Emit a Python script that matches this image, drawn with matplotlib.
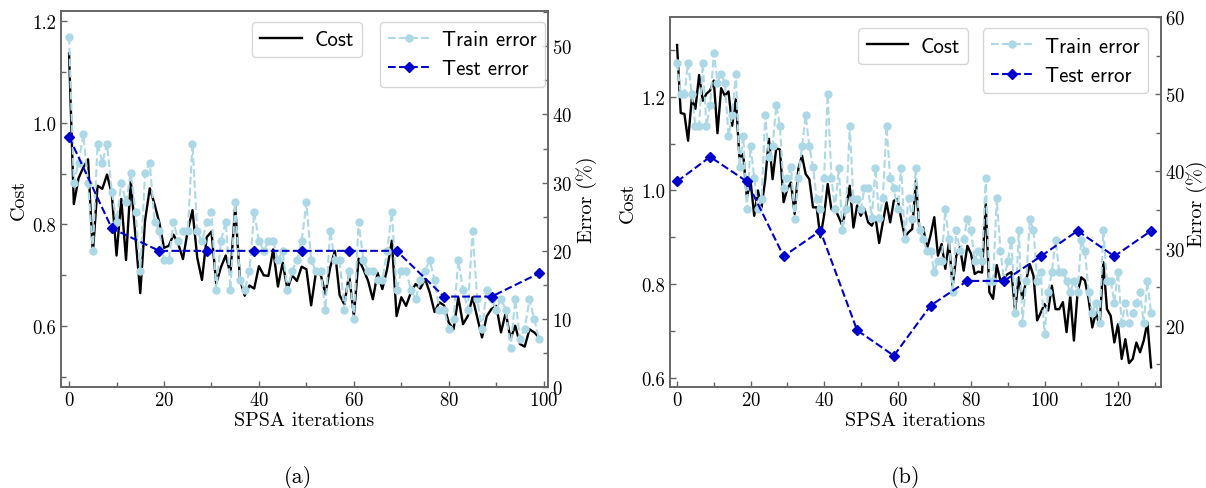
import matplotlib
matplotlib.use('Agg')
import matplotlib.pyplot as plt
from matplotlib.ticker import MultipleLocator

plt.rcParams['font.family'] = 'cmr10'
plt.rcParams['axes.formatter.use_mathtext'] = True
plt.rcParams['mathtext.fontset'] = 'cm'

# ---------------- data: panel (a) ----------------
cost_a = [1.136, 0.840, 0.891, 0.912, 0.928, 0.742, 0.876, 0.870, 0.898, 0.860,
          0.739, 0.850, 0.730, 0.886, 0.775, 0.665, 0.807, 0.871, 0.840, 0.804,
          0.754, 0.758, 0.780, 0.762, 0.732, 0.788, 0.828, 0.735, 0.691, 0.775,
          0.786, 0.684, 0.716, 0.739, 0.703, 0.836, 0.692, 0.660, 0.680, 0.674,
          0.718, 0.700, 0.699, 0.751, 0.678, 0.725, 0.673, 0.700, 0.689, 0.717,
          0.712, 0.641, 0.705, 0.702, 0.663, 0.715, 0.748, 0.661, 0.643, 0.702,
          0.620, 0.733, 0.712, 0.689, 0.653, 0.705, 0.673, 0.712, 0.768, 0.620,
          0.657, 0.640, 0.666, 0.683, 0.674, 0.693, 0.666, 0.628, 0.647, 0.641,
          0.607, 0.594, 0.657, 0.604, 0.620, 0.657, 0.617, 0.578, 0.620, 0.634,
          0.640, 0.588, 0.627, 0.575, 0.601, 0.565, 0.560, 0.594, 0.588, 0.578]
train_a = [51.4, 30.0, 32.9, 37.1, 30.0, 20.0, 35.7, 32.9, 35.7, 28.6,
           24.3, 30.0, 27.1, 31.4, 25.7, 17.1, 31.4, 32.9, 24.3, 22.9,
           18.6, 18.6, 24.3, 21.4, 22.9, 22.9, 35.7, 22.9, 21.4, 24.3,
           25.7, 14.3, 21.4, 24.3, 14.3, 27.1, 15.7, 14.3, 17.1, 25.7,
           21.4, 20.0, 21.4, 21.4, 18.6, 20.0, 14.3, 17.1, 18.6, 21.4,
           27.1, 18.6, 17.1, 17.1, 11.4, 22.9, 18.6, 18.6, 11.4, 17.1,
           10.0, 24.3, 18.6, 17.1, 17.1, 15.7, 15.7, 20.0, 25.7, 14.3,
           17.1, 17.1, 14.3, 12.9, 15.7, 17.1, 18.6, 15.7, 11.4, 11.4,
           8.6, 10.0, 18.6, 14.3, 11.4, 22.9, 12.9, 8.6, 14.3, 12.9,
           11.4, 12.9, 11.4, 5.7, 12.9, 7.1, 8.6, 12.9, 10.0, 7.1]
test_iter_a = [0, 9, 19, 29, 39, 49, 59, 69, 79, 89, 99]
test_a = [36.7, 23.3, 20.0, 20.0, 20.0, 20.0, 20.0, 20.0, 13.3, 13.3, 16.7]

# ---------------- data: panel (b) ----------------
cost_b = [1.310, 1.165, 1.163, 1.106, 1.195, 1.174, 1.246, 1.191, 1.206, 1.213,
          1.234, 1.122, 1.218, 1.202, 1.211, 1.138, 1.195, 1.068, 1.078, 0.985,
          1.021, 0.946, 1.000, 0.964, 1.024, 1.110, 1.024, 1.090, 1.087, 0.975,
          1.003, 1.017, 0.950, 1.046, 1.074, 1.035, 1.024, 0.964, 0.964, 0.900,
          0.946, 1.014, 0.960, 0.961, 0.943, 0.925, 0.964, 1.010, 0.921, 0.968,
          0.946, 0.961, 0.932, 0.925, 0.943, 0.888, 0.932, 0.975, 0.932, 0.978,
          0.982, 0.939, 0.901, 0.911, 0.918, 1.021, 0.911, 0.921, 0.875, 0.905,
          0.943, 0.861, 0.886, 0.833, 0.889, 0.797, 0.861, 0.879, 0.829, 0.882,
          0.865, 0.822, 0.827, 0.825, 0.971, 0.783, 0.769, 0.841, 0.808, 0.815,
          0.822, 0.826, 0.744, 0.815, 0.769, 0.808, 0.843, 0.818, 0.723, 0.740,
          0.758, 0.744, 0.797, 0.747, 0.747, 0.762, 0.698, 0.776, 0.680, 0.783,
          0.815, 0.808, 0.769, 0.708, 0.740, 0.712, 0.847, 0.747, 0.733, 0.676,
          0.715, 0.641, 0.683, 0.632, 0.641, 0.676, 0.655, 0.680, 0.719, 0.623]
train_b = [54.1, 50.0, 50.0, 54.1, 50.0, 45.9, 45.9, 54.1, 45.9, 48.6,
           55.4, 51.5, 52.7, 51.5, 44.6, 47.3, 52.7, 40.6, 44.6, 35.1,
           43.3, 39.2, 35.1, 36.4, 47.3, 41.9, 43.3, 48.6, 45.9, 37.8,
           39.1, 40.6, 33.8, 39.2, 43.3, 47.3, 43.3, 40.6, 36.4, 35.1,
           39.2, 50.0, 39.2, 35.1, 40.5, 32.4, 35.1, 45.9, 36.4, 36.4,
           35.1, 37.8, 37.8, 33.9, 40.5, 33.9, 36.5, 45.9, 39.2, 37.8,
           35.1, 40.5, 31.2, 36.5, 33.8, 40.5, 32.4, 31.2, 29.7, 29.7,
           27.0, 28.4, 28.4, 35.1, 31.2, 24.3, 32.4, 29.7, 31.2, 33.8,
           32.4, 28.4, 29.7, 28.4, 39.2, 25.8, 25.8, 36.5, 29.7, 25.8,
           28.4, 31.1, 21.6, 32.4, 20.3, 25.8, 33.8, 32.4, 25.8, 27.0,
           18.9, 24.3, 27.0, 31.1, 27.0, 27.0, 25.8, 24.3, 25.8, 24.3,
           31.1, 29.7, 24.3, 21.6, 23.0, 20.3, 32.4, 25.8, 25.8, 23.0,
           27.0, 20.3, 23.0, 20.3, 21.6, 23.0, 24.3, 20.3, 25.8, 21.6]
test_iter_b = [0, 9, 19, 29, 39, 49, 59, 69, 79, 89, 99, 109, 119, 129]
test_b = [38.7, 41.9, 38.7, 29.0, 32.3, 19.4, 16.1, 22.6, 25.8, 25.8, 29.0, 32.3, 29.0, 32.3]

fig = plt.figure(figsize=(12.06, 4.89), dpi=100)

SPINE_C = '0.4'
TICK_FS = 13.5
LAB_FS = 14.5
LEG_FS = 15


def style_axis(ax):
    for s in ax.spines.values():
        s.set_color(SPINE_C)
        s.set_linewidth(1.2)


def panel(rect, cost, train, t_it, test, xlim, yl, yr, yr_major, yr_minor,
          leg1_x, leg2_x, leg_top, rlabpad):
    ax = fig.add_axes(rect)
    ax2 = ax.twinx()
    ax.plot(range(len(cost)), cost, color='black', lw=1.7, label='Cost')
    ax2.plot(range(len(train)), train, color='lightblue', ls='--', lw=1.5,
             marker='o', ms=5, label='Train error')
    ax2.plot(t_it, test, color='mediumblue', ls='--', lw=1.5,
             marker='D', ms=5, label='Test error')
    ax.set_xlim(*xlim)
    ax.set_ylim(*yl)
    ax2.set_ylim(*yr)
    ax.xaxis.set_major_locator(MultipleLocator(20))
    ax.xaxis.set_minor_locator(MultipleLocator(10))
    ax.yaxis.set_major_locator(MultipleLocator(0.2))
    ax.yaxis.set_minor_locator(MultipleLocator(0.1))
    ax2.yaxis.set_major_locator(MultipleLocator(yr_major))
    ax2.yaxis.set_minor_locator(MultipleLocator(yr_minor))
    ax.yaxis.set_major_formatter(plt.FuncFormatter(lambda v, p: f'{v:.1f}'))
    ax.tick_params(which='both', direction='in', right=False, top=False,
                   labelsize=TICK_FS, color=SPINE_C)
    ax.tick_params(which='major', length=4.5, width=1.0)
    ax.tick_params(which='minor', length=3.5, width=1.0)
    ax.tick_params(axis='x', pad=3)
    ax2.tick_params(which='both', direction='in', labelsize=TICK_FS, color=SPINE_C)
    ax2.tick_params(which='major', length=4.5, width=1.0, pad=3)
    ax2.tick_params(which='minor', length=3.5, width=1.0)
    style_axis(ax)
    style_axis(ax2)
    ax.set_xlabel('SPSA iterations', fontsize=LAB_FS, labelpad=1)
    ax.set_ylabel('Cost', fontsize=LAB_FS, labelpad=3)
    ax2.set_ylabel('Error (%)', fontsize=LAB_FS, labelpad=rlabpad)
    ax.legend(loc='upper left', bbox_to_anchor=(leg1_x, leg_top),
              borderaxespad=0, handlelength=2.0, handletextpad=0.6,
              prop={'family': 'cmss10', 'size': LEG_FS})
    ax2.legend(loc='upper right', bbox_to_anchor=(leg2_x, leg_top),
               borderaxespad=0, handlelength=2.0, handletextpad=0.6,
               labelspacing=0.5,
               prop={'family': 'cmss10', 'size': LEG_FS})
    return ax, ax2


panel([61 / 1206, 1 - 388.3 / 489, 487 / 1206, 376.6 / 489],
      cost_a, train_a, test_iter_a, test_a,
      (-1.7, 100.9), (0.48, 1.22), (0, 55.2), 10, 5,
      0.392, 0.994, 0.971, 3)

panel([669.7 / 1206, 1 - 388.3 / 489, 491.3 / 1206, 370 / 489],
      cost_b, train_b, test_iter_b, test_b,
      (-2.0, 131.7), (0.5805, 1.369), (12.0, 60.0), 10, 5,
      0.384, 0.974, 0.970, 1)

fig.text(0.247, 0.0225, '(a)', ha='center', va='center', fontsize=16)
fig.text(0.751, 0.0225, '(b)', ha='center', va='center', fontsize=16)

fig.savefig('out.png', dpi=100)
